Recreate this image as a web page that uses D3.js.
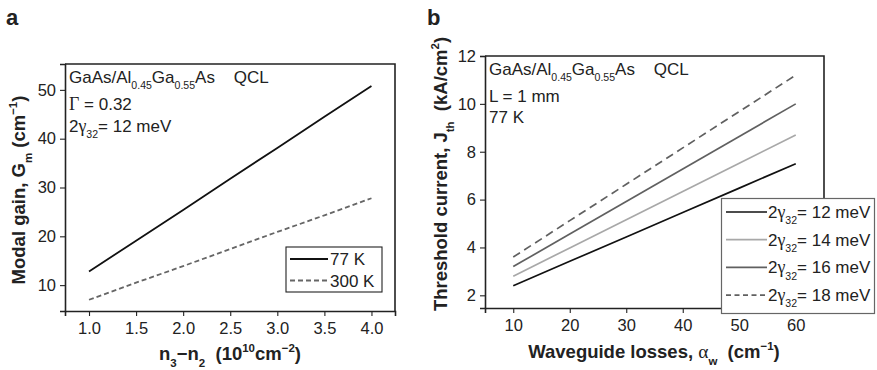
<!DOCTYPE html>
<html>
<meta charset="utf-8">
<head>
<script src="https://cdn.jsdelivr.net/npm/d3@7"></script>
<style>
  body { margin: 0; background: #fff; }
  svg text { font-family: "Liberation Sans", Arial, sans-serif; fill: #222; }
  .greek { font-family: "Liberation Serif", "Times New Roman", serif; }
</style>
</head>
<body>
<script>

// ---- data (panel a) ----
var densA = [1.0, 1.5, 2.0, 2.5, 3.0, 3.5, 4.0];
var gain77 = [12.8, 19.1, 25.4, 31.8, 38.1, 44.5, 50.8];
var gain300 = [7.0, 10.5, 13.9, 17.4, 20.9, 24.3, 27.8];
var ticksAx = [1.0, 1.5, 2.0, 2.5, 3.0, 3.5, 4.0];
var ticksAy = [10, 20, 30, 40, 50];
var seriesA = ["77 K", "300 K"];

// ---- data (panel b) ----
var lossB = [10, 20, 30, 40, 50, 60];
var j12 = [2.4, 3.42, 4.44, 5.46, 6.48, 7.5];
var j14 = [2.8, 3.98, 5.16, 6.34, 7.52, 8.7];
var j16 = [3.2, 4.56, 5.92, 7.28, 8.64, 10.0];
var j18 = [3.6, 5.12, 6.64, 8.16, 9.68, 11.2];
var ticksBx = [10, 20, 30, 40, 50, 60];
var ticksBy = [2, 4, 6, 8, 10, 12];
var seriesB = ["12", "14", "16", "18"];

var svg = d3.select("body").append("svg")
  .attr("width", 877)
  .attr("height", 370);

var FS = 17; // annotation / legend text size

// write text with sub/superscripts; parts = [[text, kind, greek], ...]
function rich(g, parts, size) {
  var t = g.append("text").attr("font-size", size).attr("xml:space", "preserve");
  var cur = 0;
  parts.forEach(function(p) {
    var kind = p[1] || "n";
    var off = kind == "sub" ? 0.36 * size : kind == "sup" ? -0.42 * size : 0;
    var ts = t.append("tspan").text(p[0]).attr("dy", off - cur);
    if (kind == "sub" || kind == "sup") ts.attr("font-size", size * 0.62);
    if (p[2]) ts.attr("class", "greek").attr("font-weight", "normal").attr("font-size", size * 1.05);
    cur = off;
  });
  return t;
}

function frame(g, x, y) {
  // top and right edges of the box
  g.append("path")
    .attr("d", "M" + x.range()[0] + "," + y.range()[1] + "H" + x.range()[1] + "V" + y.range()[0])
    .attr("fill", "none").attr("stroke", "#222").attr("stroke-width", 1.6);
}

function axes(g, x, y, tx, ty, minorX, minorY, fmtX) {
  var h = y.range()[0];
  var xa = g.append("g").attr("transform", "translate(0," + h + ")");
  xa.call(d3.axisBottom(x).tickValues(minorX).tickSize(3).tickFormat(""));
  xa.call(d3.axisBottom(x).tickValues(tx).tickSize(5).tickPadding(6).tickFormat(fmtX));
  var ya = g.append("g").attr("transform", "translate(" + x.range()[0] + ",0)");
  ya.call(d3.axisLeft(y).tickValues(minorY).tickSize(3).tickFormat(""));
  ya.call(d3.axisLeft(y).tickValues(ty).tickSize(5).tickPadding(4));
  g.selectAll(".domain").attr("stroke", "#222").attr("stroke-width", 1.6);
  g.selectAll(".tick line").attr("stroke", "#222").attr("stroke-width", 1.1);
  g.selectAll(".tick text").attr("font-size", 16.5).attr("fill", "#222")
    .attr("font-family", "Liberation Sans, Arial, sans-serif");
}

// ================= panel a =================
var xa = d3.scaleLinear().domain([0.745, 4.25]).range([65, 395]);
var ya = d3.scaleLinear().domain([4.7, 55.3]).range([311, 64]);
var ga = svg.append("g");

frame(ga, xa, ya);
axes(ga, xa, ya, ticksAx, ticksAy,
  d3.range(0.75, 4.26, 0.25), d3.range(5, 55.1, 5), d3.format(".1f"));

var lineA = d3.line().x(function(d) { return xa(d[0]); }).y(function(d) { return ya(d[1]); });
var stylesA = [{c: "#111", dash: null}, {c: "#666", dash: "5,3"}];
[gain77, gain300].forEach(function(s, i) {
  ga.append("path")
    .datum(densA.map(function(x, k) { return [x, s[k]]; }))
    .attr("d", lineA)
    .attr("fill", "none")
    .attr("stroke", stylesA[i].c)
    .attr("stroke-width", 1.8)
    .attr("stroke-dasharray", stylesA[i].dash);
});

// annotations a
rich(ga, [["GaAs/Al"], ["0.45", "sub"], ["Ga"], ["0.55", "sub"], ["As    QCL"]], FS)
  .attr("x", 69).attr("y", 83);
rich(ga, [["\u0393", "n", 1], [" = 0.32"]], FS).attr("x", 69).attr("y", 110);
rich(ga, [["2"], ["\u03b3", "n", 1], ["32", "sub"], ["= 12 meV"]], FS).attr("x", 69).attr("y", 132);

// legend a
var lga = ga.append("g");
lga.append("rect").attr("x", 286).attr("y", 247).attr("width", 96).attr("height", 45)
  .attr("fill", "#fff").attr("stroke", "#222").attr("stroke-width", 1.1);
seriesA.forEach(function(name, i) {
  var cy = 259 + i * 21.5;
  lga.append("line").attr("x1", 290).attr("x2", 328).attr("y1", cy).attr("y2", cy)
    .attr("stroke", stylesA[i].c).attr("stroke-width", 1.8).attr("stroke-dasharray", stylesA[i].dash);
  lga.append("text").attr("x", 330).attr("y", cy + 6).attr("font-size", FS).text(name);
});

// titles a
rich(ga, [["Modal gain, G"], ["m", "sub"], [" (cm"], ["\u22121", "sup"], [")"]], 18.5)
  .attr("font-weight", "bold").attr("text-anchor", "middle")
  .attr("transform", "translate(25,190) rotate(-90)");
rich(ga, [["n"], ["3", "sub"], ["\u2212n"], ["2", "sub"], ["  (10"], ["10", "sup"], ["cm"], ["\u22122", "sup"], [")"]], 18.5)
  .attr("font-weight", "bold").attr("text-anchor", "middle")
  .attr("x", 230).attr("y", 360);
ga.append("text").attr("x", 6).attr("y", 25).attr("font-size", 22).attr("font-weight", "bold").text("a");

// ================= panel b =================
var xb = d3.scaleLinear().domain([5, 65]).range([485, 824]);
var yb = d3.scaleLinear().domain([1.47, 12]).range([308, 56]);
var gb = svg.append("g");

frame(gb, xb, yb);
axes(gb, xb, yb, ticksBx, ticksBy,
  d3.range(5, 65.1, 5), d3.range(2, 12.1, 1), d3.format("d"));

var lineB = d3.line().x(function(d) { return xb(d[0]); }).y(function(d) { return yb(d[1]); });
var stylesB = [
  {c: "#111", dash: null},
  {c: "#a8a8a8", dash: null},
  {c: "#606060", dash: null},
  {c: "#606060", dash: "8,5"}
];
[j12, j14, j16, j18].forEach(function(s, i) {
  gb.append("path")
    .datum(lossB.map(function(x, k) { return [x, s[k]]; }))
    .attr("d", lineB)
    .attr("fill", "none")
    .attr("stroke", stylesB[i].c)
    .attr("stroke-width", 1.7)
    .attr("stroke-dasharray", stylesB[i].dash);
});

// annotations b
rich(gb, [["GaAs/Al"], ["0.45", "sub"], ["Ga"], ["0.55", "sub"], ["As    QCL"]], FS)
  .attr("x", 489).attr("y", 75);
rich(gb, [["L = 1 mm"]], FS).attr("x", 489).attr("y", 102);
rich(gb, [["77 K"]], FS).attr("x", 489).attr("y", 123);

// legend b
var lgb = gb.append("g");
lgb.append("rect").attr("x", 721.5).attr("y", 198.5).attr("width", 153).attr("height", 115)
  .attr("fill", "#fff").attr("stroke", "#666").attr("stroke-width", 1.2);
seriesB.forEach(function(name, i) {
  var cy = 212 + i * 27.7;
  lgb.append("line").attr("x1", 726).attr("x2", 767).attr("y1", cy).attr("y2", cy)
    .attr("stroke", stylesB[i].c).attr("stroke-width", 1.7)
    .attr("stroke-dasharray", stylesB[i].dash ? "5,3.5" : null);
  rich(lgb, [["2"], ["\u03b3", "n", 1], ["32", "sub"], ["= " + name + " meV"]], FS)
    .attr("x", 768).attr("y", cy + 6);
});

// titles b
rich(gb, [["Threshold current, J"], ["th", "sub"], ["  (kA/cm"], ["2", "sup"], [")"]], 18.5)
  .attr("font-weight", "bold").attr("text-anchor", "middle")
  .attr("transform", "translate(447,174) rotate(-90)");
rich(gb, [["Waveguide losses, "], ["\u03b1", "n", 1], ["w", "sub"], ["  (cm"], ["\u22121", "sup"], [")"]], 18.5)
  .attr("font-weight", "bold").attr("text-anchor", "middle")
  .attr("x", 654).attr("y", 358);
gb.append("text").attr("x", 427).attr("y", 25).attr("font-size", 22).attr("font-weight", "bold").text("b");

</script>
</body>
</html>
